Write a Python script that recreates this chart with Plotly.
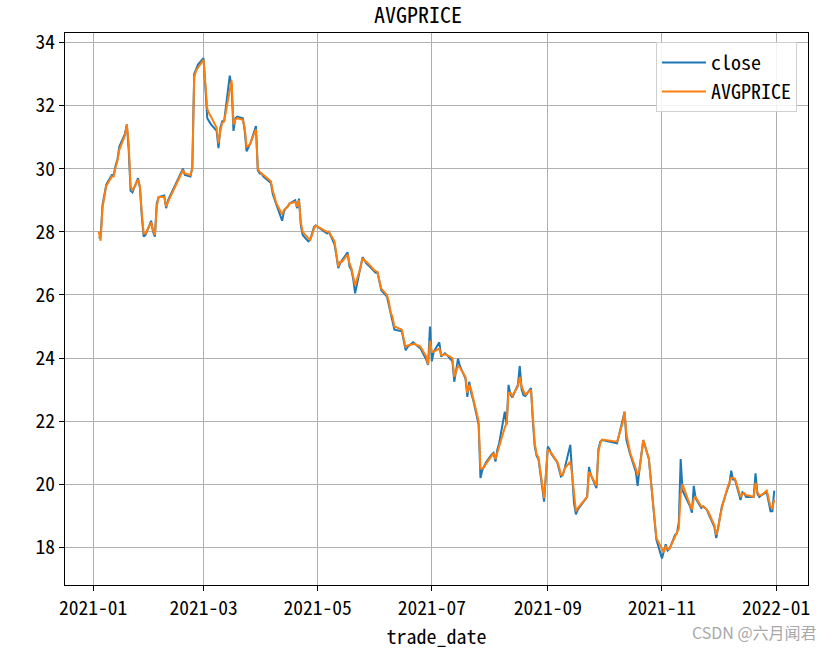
import plotly.graph_objects as go

trade_date = [
    "2021-01-04","2021-01-05","2021-01-06","2021-01-07","2021-01-08","2021-01-11","2021-01-12","2021-01-13","2021-01-14","2021-01-15",
    "2021-01-18","2021-01-19","2021-01-20","2021-01-21","2021-01-22","2021-01-25","2021-01-26","2021-01-27","2021-01-28","2021-01-29",
    "2021-02-01","2021-02-02","2021-02-03","2021-02-04","2021-02-05","2021-02-08","2021-02-09","2021-02-10","2021-02-18","2021-02-19",
    "2021-02-22","2021-02-23","2021-02-24","2021-02-25","2021-02-26","2021-03-01","2021-03-02","2021-03-03","2021-03-04","2021-03-05",
    "2021-03-08","2021-03-09","2021-03-10","2021-03-11","2021-03-12","2021-03-15","2021-03-16","2021-03-17","2021-03-18","2021-03-19",
    "2021-03-22","2021-03-23","2021-03-24","2021-03-25","2021-03-26","2021-03-29","2021-03-30","2021-03-31","2021-04-01","2021-04-02",
    "2021-04-06","2021-04-07","2021-04-08","2021-04-09","2021-04-12","2021-04-13","2021-04-14","2021-04-15","2021-04-16","2021-04-19",
    "2021-04-20","2021-04-21","2021-04-22","2021-04-23","2021-04-26","2021-04-27","2021-04-28","2021-04-29","2021-04-30","2021-05-06",
    "2021-05-07","2021-05-10","2021-05-11","2021-05-12","2021-05-13","2021-05-14","2021-05-17","2021-05-18","2021-05-19","2021-05-20",
    "2021-05-21","2021-05-24","2021-05-25","2021-05-26","2021-05-27","2021-05-28","2021-05-31","2021-06-01","2021-06-02","2021-06-03",
    "2021-06-04","2021-06-07","2021-06-08","2021-06-09","2021-06-10","2021-06-11","2021-06-15","2021-06-16","2021-06-17","2021-06-18",
    "2021-06-21","2021-06-22","2021-06-23","2021-06-24","2021-06-25","2021-06-28","2021-06-29","2021-06-30","2021-07-01","2021-07-02",
    "2021-07-05","2021-07-06","2021-07-07","2021-07-08","2021-07-09","2021-07-12","2021-07-13","2021-07-14","2021-07-15","2021-07-16",
    "2021-07-19","2021-07-20","2021-07-21","2021-07-22","2021-07-23","2021-07-26","2021-07-27","2021-07-28","2021-07-29","2021-07-30",
    "2021-08-02","2021-08-03","2021-08-04","2021-08-05","2021-08-06","2021-08-09","2021-08-10","2021-08-11","2021-08-12","2021-08-13",
    "2021-08-16","2021-08-17","2021-08-18","2021-08-19","2021-08-20","2021-08-23","2021-08-24","2021-08-25","2021-08-26","2021-08-27",
    "2021-08-30","2021-08-31","2021-09-01","2021-09-02","2021-09-03","2021-09-06","2021-09-07","2021-09-08","2021-09-09","2021-09-10",
    "2021-09-13","2021-09-14","2021-09-15","2021-09-16","2021-09-17","2021-09-22","2021-09-23","2021-09-24","2021-09-27","2021-09-28",
    "2021-09-29","2021-09-30","2021-10-08","2021-10-11","2021-10-12","2021-10-13","2021-10-14","2021-10-15","2021-10-18","2021-10-19",
    "2021-10-20","2021-10-21","2021-10-22","2021-10-25","2021-10-26","2021-10-27","2021-10-28","2021-10-29","2021-11-01","2021-11-02",
    "2021-11-03","2021-11-04","2021-11-05","2021-11-08","2021-11-09","2021-11-10","2021-11-11","2021-11-12","2021-11-15","2021-11-16",
    "2021-11-17","2021-11-18","2021-11-19","2021-11-22","2021-11-23","2021-11-24","2021-11-25","2021-11-26","2021-11-29","2021-11-30",
    "2021-12-01","2021-12-02","2021-12-03","2021-12-06","2021-12-07","2021-12-08","2021-12-09","2021-12-10","2021-12-13","2021-12-14",
    "2021-12-15","2021-12-16","2021-12-17","2021-12-20","2021-12-21","2021-12-22","2021-12-23","2021-12-24","2021-12-27","2021-12-28",
    "2021-12-29","2021-12-30","2021-12-31",
]

close = [
    27.80,27.85,28.85,29.25,29.50,29.80,29.80,30.10,30.30,30.70,
    31.10,31.40,30.60,29.30,29.25,29.70,29.40,28.50,27.85,27.90,
    28.35,28.00,27.85,28.90,29.10,29.15,28.75,29.00,30.00,29.80,
    29.75,30.05,33.00,33.15,33.30,33.50,32.40,31.60,31.50,31.40,
    31.20,30.65,31.30,31.50,31.50,32.95,32.60,31.20,31.60,31.65,
    31.60,31.20,30.55,30.70,30.80,31.35,29.95,29.85,29.85,29.75,
    29.55,29.20,29.00,28.85,28.35,28.65,28.75,28.80,28.90,29.00,
    28.75,29.05,28.20,27.90,27.70,27.75,27.95,28.15,28.20,27.95,
    28.00,27.60,27.25,26.85,27.00,27.10,27.35,26.90,26.80,26.50,
    26.05,27.00,27.20,27.10,27.00,26.95,26.75,26.70,26.70,26.40,
    26.15,25.95,25.70,25.40,25.25,24.90,24.85,24.50,24.25,24.35,
    24.50,24.45,24.40,24.35,24.30,23.95,23.78,25.00,23.90,24.20,
    24.50,24.05,24.10,24.15,24.10,23.90,23.25,23.70,23.98,23.75,
    23.35,22.77,23.25,22.90,22.70,21.90,20.20,20.45,20.60,20.70,
    20.95,21.00,20.72,21.10,21.30,22.30,21.90,23.15,22.85,22.75,
    23.15,23.75,23.00,22.82,22.80,23.05,22.00,21.20,20.90,20.80,
    19.45,20.30,21.20,21.10,20.95,20.70,20.50,20.25,20.30,20.50,
    21.25,20.10,19.40,19.05,19.20,19.60,20.55,20.30,19.88,21.10,
    21.35,21.40,21.30,22.05,22.30,21.40,21.15,20.95,20.40,19.95,
    20.50,21.05,21.40,20.80,20.10,19.50,18.75,18.25,17.65,17.90,
    18.10,17.90,17.95,18.40,18.45,18.80,20.80,19.80,19.45,19.30,
    19.10,19.95,19.55,19.25,19.30,19.25,19.20,19.05,18.65,18.30,
    18.60,18.95,19.30,19.85,20.00,20.43,20.15,20.15,19.50,19.75,
    19.70,19.60,19.60,19.60,20.35,19.70,19.60,19.65,19.75,19.50,
    19.15,19.15,19.80,
]

avgprice = [
    28.00,27.72,28.75,29.15,29.45,29.75,29.75,30.05,30.25,30.60,
    31.05,31.40,30.80,29.45,29.30,29.65,29.45,28.60,27.95,27.95,
    28.30,28.05,27.90,28.80,29.10,29.10,28.80,28.95,29.95,29.85,
    29.80,30.00,32.90,33.10,33.20,33.45,32.60,31.90,31.75,31.65,
    31.30,30.80,31.20,31.45,31.50,32.50,32.80,31.40,31.55,31.60,
    31.55,31.30,30.70,30.72,30.80,31.25,30.00,29.90,29.85,29.80,
    29.60,29.30,29.10,28.90,28.55,28.70,28.75,28.80,28.90,28.95,
    28.80,29.00,28.30,28.00,27.80,27.75,27.90,28.10,28.20,28.00,
    28.00,27.70,27.30,26.90,27.05,27.05,27.28,27.00,26.85,26.60,
    26.30,26.90,27.17,27.10,27.05,27.00,26.80,26.75,26.72,26.45,
    26.20,26.00,25.80,25.45,25.30,25.00,24.90,24.60,24.35,24.40,
    24.45,24.45,24.40,24.40,24.35,24.05,23.80,24.55,24.20,24.20,
    24.30,24.10,24.10,24.12,24.10,24.00,23.40,23.60,23.75,23.70,
    23.40,22.90,23.15,23.00,22.75,22.00,20.50,20.50,20.55,20.65,
    20.90,20.98,20.80,21.05,21.20,21.80,21.95,22.90,22.90,22.80,
    23.10,23.40,23.10,22.95,22.85,23.00,22.20,21.30,20.95,20.85,
    19.56,20.30,21.10,21.05,20.98,20.72,20.55,20.30,20.30,20.50,
    20.72,20.30,19.60,19.15,19.25,19.60,20.40,20.30,19.95,21.00,
    21.30,21.42,21.35,21.95,22.30,21.60,21.30,21.00,20.50,20.30,
    20.45,21.00,21.40,20.82,20.20,19.60,18.90,18.30,17.95,17.85,
    18.05,17.95,17.95,18.35,18.50,18.60,19.70,20.00,19.50,19.36,
    19.20,19.55,19.60,19.30,19.30,19.25,19.20,19.10,18.70,18.40,
    18.60,18.95,19.25,19.90,20.05,20.20,20.20,20.18,19.60,19.70,
    19.72,19.65,19.65,19.60,20.05,19.75,19.65,19.65,19.80,19.55,
    19.30,19.25,19.50,
]

y_ticks = [18, 20, 22, 24, 26, 28, 30, 32, 34]

FONT = "Noto Sans Mono CJK SC, Noto Sans CJK SC, sans-serif"

fig = go.Figure()
fig.add_trace(go.Scatter(x=trade_date, y=close, mode="lines", name="close",
                         line=dict(color="#1f77b4", width=2)))
fig.add_trace(go.Scatter(x=trade_date, y=avgprice, mode="lines", name="AVGPRICE",
                         line=dict(color="#ff7f0e", width=2)))

axis_common = dict(showline=True, linecolor="black", linewidth=1.2, mirror=True,
                   showgrid=True, gridcolor="#b0b0b0", gridwidth=1,
                   ticks="outside", ticklen=5, tickcolor="black", tickwidth=1.2,
                   zeroline=False, tickfont=dict(size=19.5, color="black", family=FONT))

fig.update_layout(
    width=836, height=650,
    margin=dict(l=65, r=28, t=33, b=63),
    paper_bgcolor="white", plot_bgcolor="white",
    font=dict(family=FONT, size=19.5, color="black"),
    title=dict(text="AVGPRICE", x=0.5, xanchor="center", xref="container",
               y=1 - 15 / 650, yanchor="middle", yref="container",
               font=dict(size=22, family=FONT, color="black")),
    xaxis=dict(axis_common, range=["2020-12-16 23:00", "2022-01-18 01:00"],
               dtick="M2", tick0="2021-01-01", tickformat="%Y-%m",
               title=dict(text="trade_date", font=dict(size=20, family=FONT), standoff=3)),
    yaxis=dict(axis_common, range=[16.81, 34.30], tickvals=y_ticks),
    legend=dict(x=(797 - 65) / 743, y=(587 - 42) / 554, xanchor="right", yanchor="top",
                bgcolor="rgba(255,255,255,0.85)", bordercolor="#d0d0d0", borderwidth=1,
                itemwidth=44,
                font=dict(size=20, family=FONT, color="black"), tracegroupgap=0),
    showlegend=True,
)

fig.add_annotation(text="CSDN @六月闻君", xref="paper", yref="paper",
                   x=(819 - 65) / 743, y=(587 - 634) / 554,
                   xanchor="right", yanchor="middle", showarrow=False,
                   font=dict(size=16, color="#a8a8a8", family="Noto Sans CJK SC"))

fig.write_html("out.html", config={"displayModeBar": False},
               post_script="document.body.style.margin='0px';document.body.style.padding='0px';")
